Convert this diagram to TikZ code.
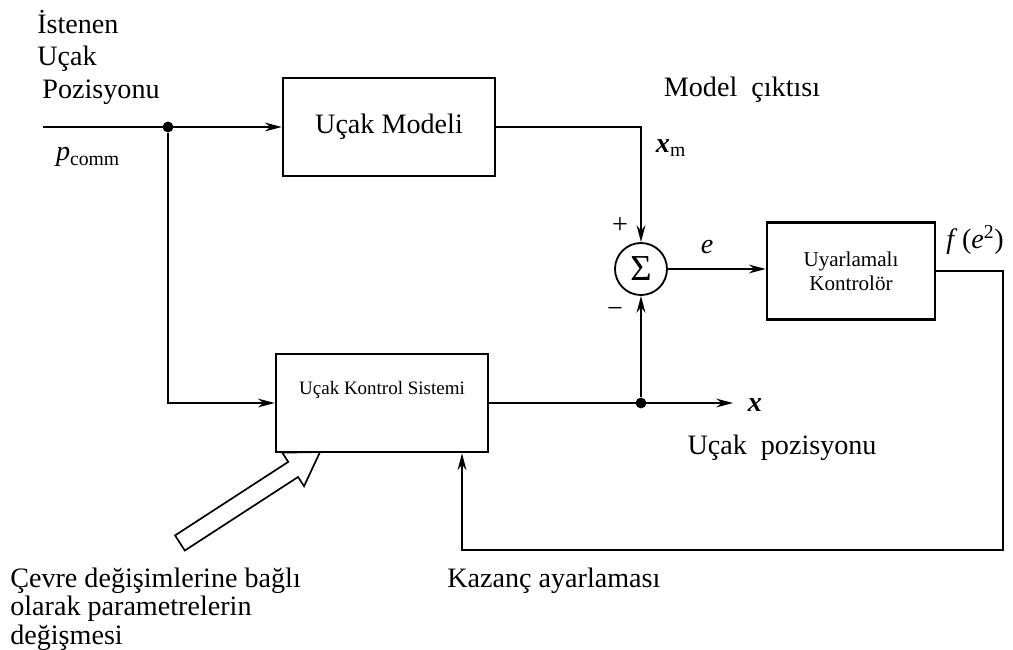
\documentclass[tikz,border=0pt]{standalone}
\usepackage{fontspec}
\setmainfont{Liberation Serif}
\usetikzlibrary{arrows.meta,positioning,calc}

\begin{document}
\begin{tikzpicture}[
    x=0.025cm, y=-0.025cm,
    >={Stealth[length=0.42cm,width=0.22cm]},
    font=\fontsize{20}{23}\selectfont,
    block/.style={
        draw=black,
        line width=1.8pt,
        minimum width=5.3cm,
        minimum height=2.45cm,
        align=center
    },
    smallblock/.style={
        block,
        minimum width=4.2cm,
        minimum height=2.42cm,
        font=\fontsize{15}{17}\selectfont
    },
    sumnode/.style={
        draw=black,
        line width=1.3pt,
        circle,
        minimum size=1.3cm,
        inner sep=0pt
    },
    junc/.style={circle, fill=black, inner sep=0pt, minimum size=0.27cm},
    txt/.style={inner sep=0pt, align=left},
    arr/.style={->, line width=1.2pt}
]
\useasboundingbox (0,0) rectangle (1013,650);

% blocks
\node[block] (model) at (389,127) {Uçak Modeli};
\node[block, font=\fontsize{13.5}{16}\selectfont] (kontrol) at (382,403)
    {Uçak Kontrol Sistemi\\[0.2cm]};
\node[sumnode] (sum) at (641,269) {\fontsize{26}{26}\selectfont Σ};
\node[smallblock] (uyar) at (851,271) {Uyarlamalı\\Kontrolör};

% junctions and free ends
\coordinate (in) at (43,127);
\node[junc] (split) at (168,127) {};
\node[junc] (tap) at (641,403) {};
\coordinate (xout) at (733,403);
\coordinate (fbR) at (1003,550);
\coordinate (fbL) at (462,550);

% connectors
\draw[arr] (in) -- (model.west);
\draw[arr] (split) |- (kontrol.west);
\draw[arr] (model.east) -| (sum.north);
\draw[arr] (kontrol.east) -- (xout);
\draw[arr] (tap) -- (sum.south);
\draw[arr] (sum.east) -- (sum.east -| uyar.west);
\draw[arr] (uyar.east) -| (fbR) -- (fbL) -- (fbL |- kontrol.south);

% environment arrow
\begin{scope}[shift={(320,452)}, rotate=33]
\draw[line width=1.2pt, fill=white] (0,0) -- (-32,-20) -- (-32,-9) -- (-167,-9)
    -- (-167,9) -- (-32,9) -- (-32,20) -- cycle;
\end{scope}

% texts
\node[txt, anchor=north west] (istenen) at (37,10)
    {İstenen\\Uçak\\\hspace*{0.13cm}Pozisyonu};
\node[txt] (pcomm) at (88,157) {\textit{p}\textsubscript{comm}};
\node[txt] (cikti) at (742,90) {Model \ çıktısı};
\node[txt] (xm) at (671,148) {\textbf{\textit{x}}\textsubscript{m}};
\node[txt] (plus) at (620,226) {+};
\node[txt] (minus) at (615,312) {−};
\node[txt] (elab) at (707,247) {\textit{e}};
\node[txt] (flab) at (975,240) {\textit{f}\,(\textit{e}\textsuperscript{2})};
\node[txt] (xlab) at (755,405) {\textbf{\textit{x}}};
\node[txt] (poz) at (782,448) {Uçak \ pozisyonu};
\node[txt, anchor=west] (kazanc) at (447,581) {Kazanç ayarlaması};
\node[txt, anchor=north west, font=\fontsize{20}{20}\selectfont] (cevre) at (10,568)
    {Çevre değişimlerine bağlı\\olarak parametrelerin\\değişmesi};

\end{tikzpicture}
\end{document}
